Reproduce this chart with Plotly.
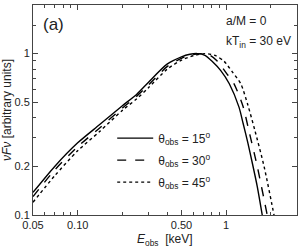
import plotly.graph_objects as go

# Data (E_obs in keV, nuFnu in arbitrary units)
e_15 = [0.05, 0.07, 0.10, 0.14, 0.20, 0.25, 0.30, 0.40, 0.50, 0.57, 0.64, 0.72, 0.81, 0.92, 1.05, 1.22, 1.30, 1.40, 1.50, 1.62, 1.75, 1.85]
f_15 = [0.138, 0.20, 0.28, 0.362, 0.475, 0.56, 0.665, 0.86, 0.955, 0.99, 1.00, 0.975, 0.89, 0.785, 0.65, 0.466, 0.37, 0.28, 0.21, 0.15, 0.10, 0.074]

e_30 = [0.05, 0.07, 0.10, 0.14, 0.20, 0.25, 0.30, 0.40, 0.50, 0.60, 0.68, 0.78, 0.87, 1.00, 1.13, 1.30, 1.42, 1.62, 1.89, 2.00]
f_30 = [0.13, 0.19, 0.265, 0.345, 0.46, 0.545, 0.64, 0.83, 0.935, 0.985, 1.00, 0.975, 0.90, 0.76, 0.65, 0.47, 0.335, 0.20, 0.10, 0.077]

e_45 = [0.05, 0.07, 0.10, 0.14, 0.20, 0.25, 0.30, 0.40, 0.50, 0.60, 0.72, 0.85, 0.97, 1.10, 1.255, 1.40, 1.56, 1.80, 2.10, 2.25]
f_45 = [0.12, 0.175, 0.25, 0.328, 0.445, 0.525, 0.615, 0.80, 0.91, 0.97, 1.00, 0.97, 0.895, 0.77, 0.65, 0.48, 0.335, 0.20, 0.10, 0.072]

series_names = ["θ<sub>obs</sub> = 15<sup>o</sup>", "θ<sub>obs</sub> = 30<sup>o</sup>", "θ<sub>obs</sub> = 45<sup>o</sup>"]
dashes = ["solid", "dash", "dot"]

x_tickvals = [0.05, 0.1, 0.5, 1]
x_ticktext = ["0.05", "0.10", "0.50", "1"]
x_minor = [0.06, 0.07, 0.08, 0.09, 0.2, 0.3, 0.4, 0.6, 0.7, 0.8, 0.9, 2, 3]
y_tickvals = [0.1, 0.2, 0.5, 1, 2]
y_ticktext = ["0.1", "0.2", "0.5", "1", "2"]
y_minor = [0.3, 0.4, 0.6, 0.7, 0.8, 0.9, 1.5]

fig = go.Figure()
for i, (xs, ys) in enumerate([(e_15, f_15), (e_30, f_30), (e_45, f_45)]):
    fig.add_trace(go.Scatter(
        x=xs, y=ys, mode="lines", name=series_names[i], legendgroup=str(i),
        line=dict(color="black", width=1.4, dash=dashes[i], shape="spline", smoothing=0.7),
    ))

font = "Liberation Sans, Arial, sans-serif"
fig.update_layout(
    width=299, height=250,
    margin=dict(l=33, r=2, t=5, b=35),
    paper_bgcolor="white", plot_bgcolor="white",
    font=dict(family=font, size=11, color="#222"),
    showlegend=True,
    legend=dict(x=0.30, y=0.435, xanchor="left", yanchor="top", bgcolor="rgba(0,0,0,0)",
                font=dict(size=12, color="#222"), tracegroupgap=3, itemwidth=36),
    xaxis=dict(type="log", range=[-1.30103, 0.4771], tickmode="array",
               tickvals=x_tickvals, ticktext=x_ticktext, ticks="inside", ticklen=5,
               showline=True, linecolor="#444", linewidth=1, mirror="allticks",
               showgrid=False, zeroline=False,
               minor=dict(tickmode="array", tickvals=x_minor, ticks="inside", ticklen=3, tickcolor="#444")),
    yaxis=dict(type="log", range=[-1, 0.30103], tickmode="array",
               tickvals=y_tickvals, ticktext=y_ticktext, ticks="inside", ticklen=5,
               showline=True, linecolor="#444", linewidth=1, mirror="allticks",
               showgrid=False, zeroline=False,
               minor=dict(tickmode="array", tickvals=y_minor, ticks="inside", ticklen=3, tickcolor="#444"),
               title=dict(text="<i>νFν</i> [arbitrary units]", standoff=2, font=dict(size=12))),
    annotations=[
        dict(text="<i>E</i><sub>obs</sub>  [keV]", x=0.5, y=-0.12, xref="paper", yref="paper",
             xanchor="center", yanchor="middle", showarrow=False, font=dict(size=12, color="#222")),
        dict(text="(a)", x=0.03, y=0.905, xref="paper", yref="paper", xanchor="left", yanchor="middle",
             showarrow=False, font=dict(size=17, color="#222")),
        dict(text="a/M = 0", x=0.722, y=0.924, xref="paper", yref="paper", xanchor="left", yanchor="middle",
             showarrow=False, font=dict(size=12, color="#222")),
        dict(text="kT<sub>in</sub> = 30 eV", x=0.722, y=0.826, xref="paper", yref="paper", xanchor="left", yanchor="middle",
             showarrow=False, font=dict(size=12, color="#222")),
    ],
)

fig.write_html("out.html", config={"displayModeBar": False},
               post_script="document.body.style.margin='0';document.body.style.padding='0';")
